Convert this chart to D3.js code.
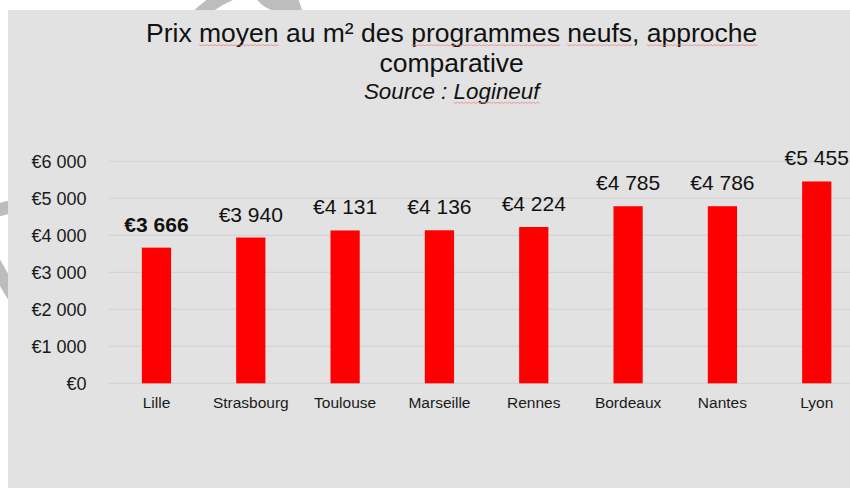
<!DOCTYPE html>
<html>
<head>
<meta charset="utf-8">
<script src="https://cdn.jsdelivr.net/npm/d3@7"></script>
<style>
  html, body { margin: 0; padding: 0; background: #ffffff; }
  svg { display: block; font-family: "Liberation Sans", Arial, sans-serif; }
</style>
</head>
<body>
<svg id="chart" width="850" height="488"></svg>
<script>
// ---- data ----
const categories = ["Lille", "Strasbourg", "Toulouse", "Marseille", "Rennes", "Bordeaux", "Nantes", "Lyon"];
const values = [3666, 3940, 4131, 4136, 4224, 4785, 4786, 5455];
const valueLabels = ["€3 666", "€3 940", "€4 131", "€4 136", "€4 224", "€4 785", "€4 786", "€5 455"];
const boldCategories = ["Lille"];
const tickValues = [0, 1000, 2000, 3000, 4000, 5000, 6000];
const tickLabels = ["€0", "€1 000", "€2 000", "€3 000", "€4 000", "€5 000", "€6 000"];
const titleLine1 = ["Prix", "moyen", "au", "m²", "des", "programmes", "neufs,", "approche"];
const titleLine2 = ["comparative"];
const sourceLine = ["Source", ":", "Logineuf"];
const flaggedWords = ["moyen", "programmes", "neufs", "approche", "Logineuf"];

const svg = d3.select("#chart");

// watermark fragments visible in white margin
const wm = svg.append("g").attr("fill", "none").attr("stroke", "#bdbdbd").attr("stroke-width", 13);
wm.append("path").attr("d", "M196,18 C210,2 228,-6 246,-12");
wm.append("path").attr("d", "M258,-14 C262,4 282,10 300,4");
wm.append("path").attr("d", "M-10,212 L14,206");
wm.append("path").attr("d", "M-6,262 C2,276 8,288 16,300");

// panel
svg.append("rect").attr("x", 8).attr("y", 10).attr("width", 842).attr("height", 478).attr("fill", "#e2e2e2");

// scales
const x = d3.scaleBand().domain(categories).range([109.3, 863.9]).paddingInner(0.69).paddingOuter(0.345);
const y = d3.scaleLinear().domain([0, 6000]).range([383.3, 161.3]);

// gridlines
svg.append("g").selectAll("line").data(tickValues).join("line")
  .attr("x1", 109).attr("x2", 850)
  .attr("y1", d => y(d)).attr("y2", d => y(d))
  .attr("stroke", "#d4d4d4").attr("stroke-width", 1.2);

// y axis labels
const yAxis = d3.axisLeft(y).tickValues(tickValues).tickSize(0).tickPadding(0)
  .tickFormat((d, i) => tickLabels[i]);
const gy = svg.append("g").attr("transform", "translate(86.5,0)").call(yAxis);
gy.select(".domain").remove();
gy.selectAll("text").attr("font-size", 18).attr("fill", "#1a1a1a")
  .attr("font-family", "'Liberation Sans', Arial, sans-serif");

// x axis labels
const xAxis = d3.axisBottom(x).tickSize(0).tickPadding(0);
const gx = svg.append("g").attr("transform", "translate(0,396)").call(xAxis);
gx.select(".domain").remove();
gx.selectAll("text").attr("font-size", 15.5).attr("fill", "#1a1a1a").attr("dy", "0.78em")
  .attr("font-family", "'Liberation Sans', Arial, sans-serif");

// bars
svg.append("g").selectAll("rect").data(categories).join("rect")
  .attr("x", d => x(d)).attr("width", x.bandwidth())
  .attr("y", (d, i) => y(values[i])).attr("height", (d, i) => y(0) - y(values[i]))
  .attr("fill", "#ff0000");

// value labels
svg.append("g").selectAll("text").data(categories).join("text")
  .attr("x", d => x(d) + x.bandwidth() / 2)
  .attr("y", (d, i) => y(values[i]) - 16)
  .attr("text-anchor", "middle")
  .attr("font-size", 21)
  .attr("font-weight", d => boldCategories.includes(d) ? "bold" : "normal")
  .attr("fill", "#111")
  .text((d, i) => valueLabels[i]);

// title
function wordsLine(words, yPos, size, italic) {
  const t = svg.append("text").attr("x", 451.7).attr("y", yPos).attr("text-anchor", "middle")
    .attr("font-size", size).attr("fill", "#111").attr("font-style", italic ? "italic" : "normal");
  words.forEach((w, i) => {
    t.append("tspan").text((i ? " " : "") + w).attr("data-word", w);
  });
  return t;
}
const lines = [
  wordsLine(titleLine1, 41.7, 26.5, false),
  wordsLine(titleLine2, 71.7, 26.5, false),
  wordsLine(sourceLine, 99.3, 22.4, true)
];

// spell-check squiggles
const sq = svg.append("g").attr("fill", "none").attr("stroke", "#f08080").attr("stroke-width", 0.8);
lines.forEach(t => {
  const by = +t.attr("y") + 3;
  t.selectAll("tspan").each(function() {
    const w = this.getAttribute("data-word").replace(/[,]/g, "");
    if (!flaggedWords.includes(w)) return;
    const txt = this.textContent;
    const off = txt.startsWith(" ") ? 1 : 0;
    const start = this.getStartPositionOfChar(off).x;
    const end = this.getEndPositionOfChar(off + w.length - 1).x;
    let d = `M${start},${by}`;
    for (let xx = start, k = 0; xx < end; xx += 2, k++) {
      d += ` L${Math.min(xx + 2, end)},${by + (k % 2 ? 0 : 1)}`;
    }
    sq.append("path").attr("d", d);
  });
});
</script>
</body>
</html>
